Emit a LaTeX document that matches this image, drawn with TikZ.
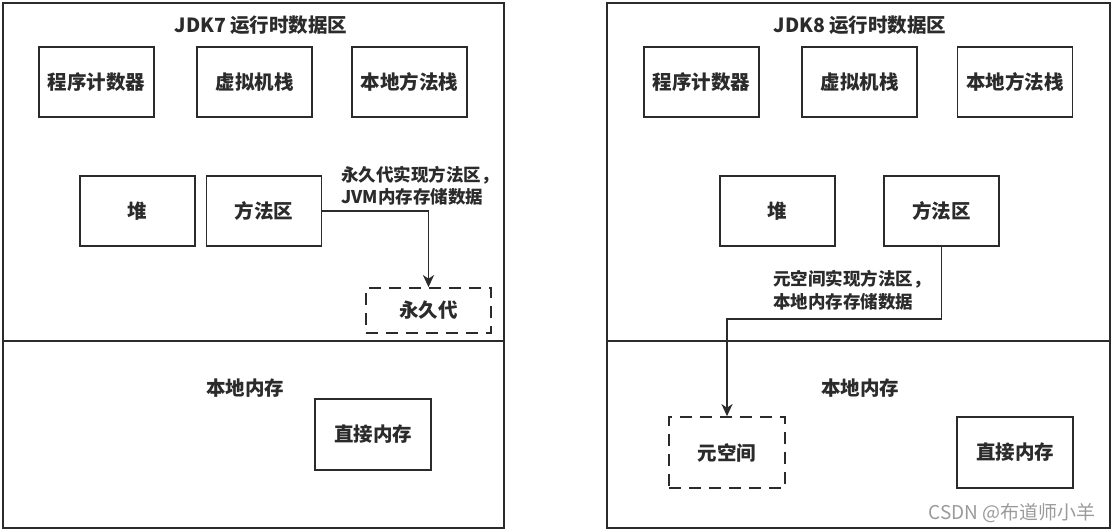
\documentclass[tikz,border=0pt]{standalone}
\usepackage{fontspec}
\setmainfont{Noto Sans CJK SC}
\usetikzlibrary{arrows.meta}
\definecolor{ln}{HTML}{2B2B2B}
\definecolor{wm}{HTML}{9A9A9A}
\tikzset{
  panel/.style={draw=ln, line width=1.8pt, inner sep=0pt},
  boxnode/.style={draw=ln, line width=1.7pt, minimum width=115pt, minimum height=70pt, inner sep=0pt, font=\fontsize{19.5}{21}\selectfont\bfseries, text=ln},
  dashbox/.style={boxnode, dash pattern=on 12pt off 8pt},
  lbl/.style={inner sep=0pt, font=\fontsize{19.5}{21}\selectfont\bfseries, text=ln},
  note/.style={inner sep=0pt, align=left, font=\fontsize{17.5}{22.5}\selectfont\bfseries, text=ln},
  arr/.style={draw=ln, line width=1.7pt, -{Stealth[length=12pt, width=11pt, inset=3.5pt]}},
}
\begin{document}
\begin{tikzpicture}[x=1pt, y=-1pt]
\useasboundingbox (0,0) rectangle (1112,532);
% ---------- JDK7 ----------
\node[panel, minimum width=501pt, minimum height=525pt] (lpanel) at (253.5,265.5) {};
\coordinate (ldivl) at (3,341);
\coordinate (ldivr) at (504,341);
\draw[ln, line width=1.7pt] (ldivl) -- (ldivr);
\node[lbl] (ltitle) at (261,25) {JDK7 运行时数据区};
\node[boxnode] (lpc) at (96.5,82) {程序计数器};
\node[boxnode] (lvm) at (254.5,82) {虚拟机栈};
\node[boxnode] (lnm) at (409.5,82) {本地方法栈};
\node[boxnode] (lheap) at (137.5,211) {堆};
\node[boxnode] (lma) at (264,211) {方法区};
\node[note, anchor=west] (lnote) at (341,186) {永久代实现方法区，\\JVM内存存储数据};
\node[dashbox, minimum width=125pt, minimum height=45pt] (lperm) at (428.5,310.5) {永久代};
\draw[arr] (lma.east) -| (lperm.north);
\node[lbl] (lnative) at (245,388) {本地内存};
\node[boxnode, minimum width=116pt, minimum height=71pt] (ldirect) at (373,434.5) {直接内存};
% ---------- JDK8 ----------
\node[panel, minimum width=503pt, minimum height=525pt] (rpanel) at (858.5,265.5) {};
\coordinate (rdivl) at (607,341);
\coordinate (rdivr) at (1110,341);
\draw[ln, line width=1.7pt] (rdivl) -- (rdivr);
\node[lbl] (rtitle) at (860,25) {JDK8 运行时数据区};
\node[boxnode] (rpc) at (701.5,82) {程序计数器};
\node[boxnode] (rvm) at (859.5,82) {虚拟机栈};
\node[boxnode] (rnm) at (1015,82) {本地方法栈};
\node[boxnode] (rheap) at (777.5,211) {堆};
\node[boxnode] (rma) at (941.5,211) {方法区};
\node[note, anchor=west] (rnote) at (773,290.5) {元空间实现方法区，\\本地内存存储数据};
\node[lbl] (rnative) at (860,388) {本地内存};
\node[dashbox, minimum width=116pt, minimum height=71pt] (rmeta) at (727,452.5) {元空间};
\node[boxnode, minimum width=116pt, minimum height=71pt] (rdirect) at (1015,452.5) {直接内存};
\coordinate (rbend) at (727,319);
\draw[arr] (rma.south) |- (rbend) -- (rmeta.north);
\node[inner sep=0pt, anchor=east, text=wm, font=\fontsize{19}{21}\selectfont] (wmark) at (1096,513) {CSDN @布道师小羊};
\end{tikzpicture}
\end{document}
